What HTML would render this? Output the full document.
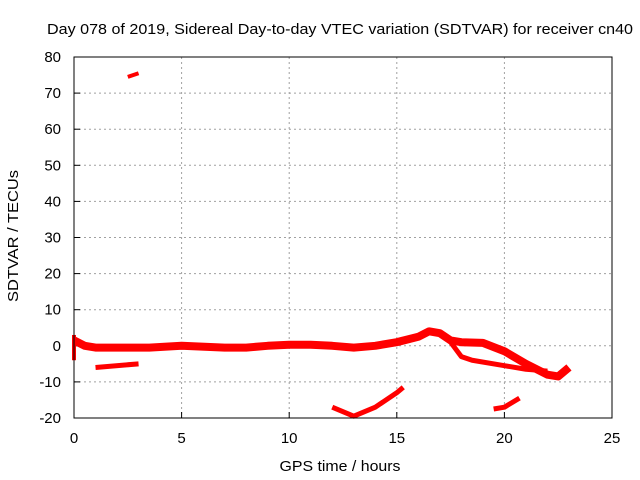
<!DOCTYPE html>
<html><head><meta charset="utf-8"><style>
body{margin:0;background:#fff}
svg{display:block;font-family:"Liberation Sans",sans-serif}
</style></head><body>
<svg id="c" width="640" height="480">
<rect width="640" height="480" fill="#fff"/>
<text x="340" y="34" font-size="15" text-anchor="middle" textLength="586" lengthAdjust="spacingAndGlyphs">Day 078 of 2019, Sidereal Day-to-day VTEC variation (SDTVAR) for receiver cn40</text>
<text x="340" y="471" font-size="15" text-anchor="middle" textLength="121" lengthAdjust="spacingAndGlyphs">GPS time / hours</text>
<text transform="translate(18,236) rotate(-90)" font-size="15" text-anchor="middle" textLength="132" lengthAdjust="spacingAndGlyphs">SDTVAR / TECUs</text>
<g id="grid"></g><g id="series"></g>
<rect x="74" y="57" width="538" height="361" fill="none" stroke="#000"/>
</svg>
<script>
const xTicks=[0,5,10,15,20,25];
const yTicks=[-20,-10,0,10,20,30,40,50,60,70,80];
const mainH=[0,0.5,1,2,3,3.5,5,7,8,9,10,11,12,13,14,15,16,16.5,17,17.5,18,19,20,21,22,22.5,23];
const mainV=[1.5,0,-0.5,-0.5,-0.5,-0.5,0,-0.5,-0.5,0,0.3,0.3,0,-0.5,0,1,2.5,4,3.5,1.5,1,0.8,-1.5,-5,-8,-8.5,-6];
const branchH=[17.5,18,18.5,20,21,22];
const branchV=[1,-3,-4,-5.5,-6.5,-7];
const lowH=[1,3];const lowV=[-6,-5];
const topH=[2.5,3];const topV=[74.5,75.5];
const bot1H=[12,13,14,15,15.3];const bot1V=[-17,-19.5,-17,-13,-11.5];
const bot2H=[19.5,20,20.7];const bot2V=[-17.5,-17,-14.5];
const spikeH=[0,0];const spikeV=[3,-4];
const X=h=>74+h*538/25, Y=v=>418-(v+20)*361/100;
const NS='http://www.w3.org/2000/svg',svg=document.getElementById('c');
const g=document.getElementById('grid'),s=document.getElementById('series');
function mk(t,a,p){const e=document.createElementNS(NS,t);for(const k in a)e.setAttribute(k,a[k]);p.appendChild(e);return e;}
xTicks.forEach(t=>{
 if(t>0&&t<25){const l=mk('line',{x1:X(t),x2:X(t),y1:57,y2:418,stroke:'#a0a0a0','stroke-dasharray':'2,3'},g);
 
 }
 const k=mk('line',{x1:X(t),x2:X(t),y1:418,y2:412,stroke:'#000'},g);
 
 
 const tx=mk('text',{x:X(t),y:443,'font-size':15,'text-anchor':'middle'},g);tx.textContent=t;
 
 
});
yTicks.forEach(t=>{
 if(t>-20&&t<80){const l=mk('line',{x1:74,x2:612,y1:Y(t),y2:Y(t),stroke:'#a0a0a0','stroke-dasharray':'2,3'},g);
 
 }
 const k=mk('line',{x1:74,x2:80,y1:Y(t),y2:Y(t),stroke:'#000'},g);
 
 
 const tx=mk('text',{x:61,y:Y(t)+5,'font-size':15,'text-anchor':'end'},g);tx.textContent=t;
 
 
});
function series(H,V,w,name){
 const p=mk('polyline',{points:H.map((h,i)=>X(h)+','+Y(V[i])).join(' '),fill:'none',stroke:'#ff0000','stroke-width':w,'stroke-linejoin':'round'},s);
 
 
}
series(mainH,mainV,8,'main-series');
series(branchH,branchV,5,'branch-series');
series(lowH,lowV,5,'low-series');
series(topH,topV,4,'top-series');
series(bot1H,bot1V,5,'bottom-series-1');
series(bot2H,bot2V,5,'bottom-series-2');
series(spikeH,spikeV,4,'start-spike');
</script>
</body></html>
